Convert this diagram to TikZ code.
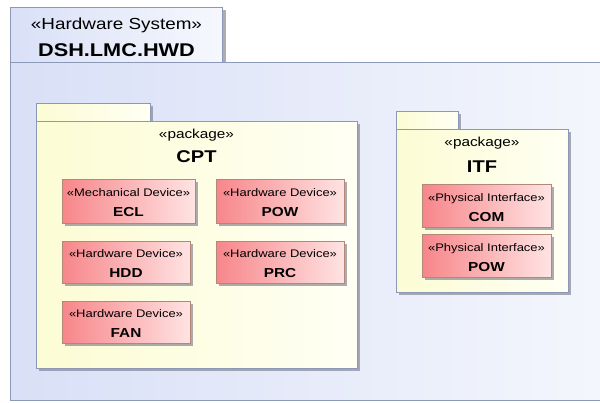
\documentclass[tikz,border=0pt]{standalone}
\usepackage{fontspec}
\setmainfont{Liberation Sans}[FakeStretch=1.18]
\usetikzlibrary{shadows}
\definecolor{frameline}{HTML}{8C98B8}
\definecolor{sysL}{HTML}{D9E0F7}
\definecolor{sysR}{HTML}{F6F8FD}
\definecolor{pkgL}{HTML}{FCFCD4}
\definecolor{pkgR}{HTML}{FFFFF4}
\definecolor{devL}{HTML}{F7868A}
\definecolor{devR}{HTML}{FFE3E3}
\definecolor{devline}{HTML}{B5877A}
\definecolor{shadowc}{HTML}{80808A}
\begin{document}
\begin{tikzpicture}[x=1pt,y=-1pt,
  shad/.style={drop shadow={shadow xshift=3pt,shadow yshift=-3pt,fill=shadowc,opacity=0.65}},
  sysbox/.style={draw=frameline,line width=0.8pt,left color=sysL,right color=sysR,inner sep=0pt,outer sep=0pt,anchor=north west},
  pkgbox/.style={draw=frameline,line width=0.8pt,left color=pkgL,right color=pkgR,shad,inner sep=0pt,outer sep=0pt,anchor=north west},
  devbox/.style={draw=devline,line width=0.8pt,left color=devL,right color=devR,shad,inner sep=0pt,outer sep=0pt,anchor=north west,align=center,text=black,font=\fontsize{11}{20}\selectfont},
  pkgster/.style={font=\fontsize{13}{15}\selectfont},
  pkgname/.style={font=\fontsize{17}{19}\selectfont\bfseries},
]
\newcommand{\devname}[1]{{\fontsize{13}{20}\selectfont\bfseries #1}}
\newcommand{\devster}[1]{\rule{0pt}{11.5pt}#1}
\useasboundingbox (0,0) rectangle (600,402);
\clip (0,0) rectangle (600,402);
\fill[white] (0,0) rectangle (600,402);

% outer hardware system frame
\node[sysbox,shad,minimum width=212pt,minimum height=55pt] (systab) at (10.5,7) {};
\node[sysbox,minimum width=640pt,minimum height=338pt] (sysbody) at (10,62) {};
\node[font=\fontsize{16}{18}\selectfont] (sysster) at ([yshift=-18.5pt]systab.north) {«Hardware System»};
\node[font=\fontsize{18.4}{20}\selectfont\bfseries] (sysname) at ([yshift=-43pt]systab.north) {DSH.LMC.HWD};

% CPT package
\node[pkgbox,minimum width=114pt,minimum height=18pt] (cpttab) at (36,103) {};
\node[pkgbox,minimum width=321pt,minimum height=247pt] (cpt) at (36,121) {};
\node[pkgster] (cptster) at ([yshift=-14pt]cpt.north) {«package»};
\node[pkgname] (cptname) at ([yshift=-36pt]cpt.north) {CPT};

\node[devbox,minimum width=133pt,minimum height=44pt] (ecl) at (62,179)
  {\devster{«Mechanical Device»}\\\devname{ECL}};
\node[devbox,minimum width=128pt,minimum height=44pt] (pow) at (216,179)
  {\devster{«Hardware Device»}\\\devname{POW}};
\node[devbox,minimum width=128pt,minimum height=42pt] (hdd) at (62,241)
  {\devster{«Hardware Device»}\\\devname{HDD}};
\node[devbox,minimum width=128pt,minimum height=42pt] (prc) at (216,241)
  {\devster{«Hardware Device»}\\\devname{PRC}};
\node[devbox,minimum width=128pt,minimum height=42pt] (fan) at (62,301)
  {\devster{«Hardware Device»}\\\devname{FAN}};

% ITF package
\node[pkgbox,minimum width=62pt,minimum height=18pt] (itftab) at (396,111) {};
\node[pkgbox,minimum width=172pt,minimum height=163pt] (itf) at (396,129) {};
\node[pkgster] (itfster) at ([yshift=-14pt]itf.north) {«package»};
\node[pkgname] (itfname) at ([yshift=-38pt]itf.north) {ITF};

\node[devbox,minimum width=129pt,minimum height=43pt] (com) at (422,184)
  {\devster{«Physical Interface»}\\\devname{COM}};
\node[devbox,minimum width=129pt,minimum height=43pt] (ipow) at (422,234)
  {\devster{«Physical Interface»}\\\devname{POW}};
\end{tikzpicture}
\end{document}
